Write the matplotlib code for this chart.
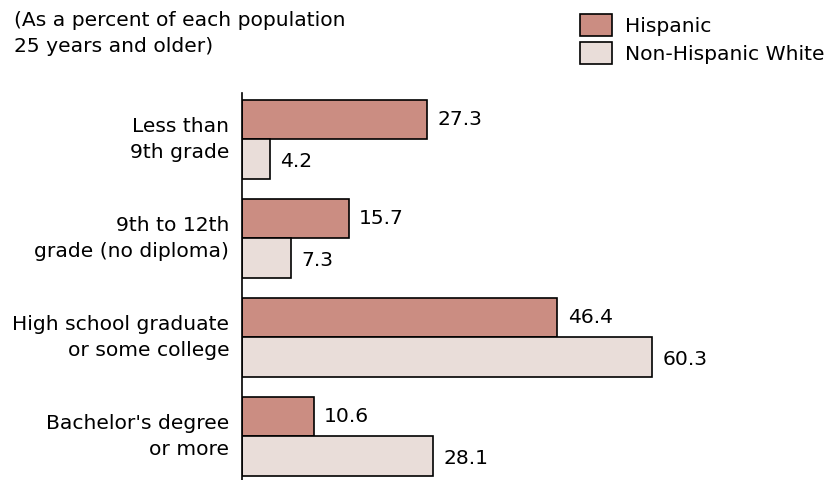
import numpy as np
import matplotlib
matplotlib.use("Agg")
import matplotlib.pyplot as plt
from matplotlib.patches import Patch

categories = ["Less than\n9th grade", "9th to 12th\ngrade (no diploma)",
              "High school graduate\nor some college", "Bachelor's degree\nor more"]
hispanic = [27.3, 15.7, 46.4, 10.6]
white = [4.2, 7.3, 60.3, 28.1]
series_names = ["Hispanic", "Non-Hispanic White"]

hisp_color = "#cb8d82"
white_color = "#e9ddd9"

plt.rcParams['font.family'] = ['DejaVu Sans']
plt.rcParams['font.size'] = 14.6

fig = plt.figure(figsize=(8.24, 4.80), dpi=100)
ax = fig.add_axes([241.7 / 824, 0, 1 - 241.7 / 824, 1 - 93 / 480])

step = 0.99
h = 0.395
pos = np.arange(len(categories)) * step + 0.263

ax.barh(pos, hispanic, height=h, color=hisp_color, edgecolor="black", linewidth=1.2)
ax.barh(pos + h, white, height=h, color=white_color, edgecolor="black", linewidth=1.2)

for y, v in zip(pos, hispanic):
    ax.text(v + 1.5, y, f"{v}", va="center", ha="left")
for y, v in zip(pos + h, white):
    ax.text(v + 1.5, y + 0.03, f"{v}", va="center", ha="left")

# labels sit a little above the bar boundary
ax.set_yticks(pos + h / 2 - 0.05)
ax.set_yticklabels(categories, linespacing=1.47)
ax.tick_params(axis="y", length=0, pad=9)
ax.set_ylim(3.87, 0)
ax.set_xlim(0, 582 / 6.8)
ax.set_xticks([])
for s in ["top", "right", "bottom"]:
    ax.spines[s].set_visible(False)
ax.spines["left"].set_linewidth(1.2)

fig.text(14 / 824, 1 - 11 / 480, "(As a percent of each population\n25 years and older)",
         ha="left", va="top", linespacing=1.5)

handles = [Patch(facecolor=hisp_color, edgecolor="black", linewidth=1.2),
           Patch(facecolor=white_color, edgecolor="black", linewidth=1.2)]
fig.legend(handles, series_names, loc="upper left", bbox_to_anchor=(580 / 824, 1 - 14 / 480),
           frameon=False, handlelength=1.6, handleheight=1.3, handletextpad=0.6,
           labelspacing=0.3, borderpad=0, borderaxespad=0)

fig.savefig("out.png", dpi=100)
